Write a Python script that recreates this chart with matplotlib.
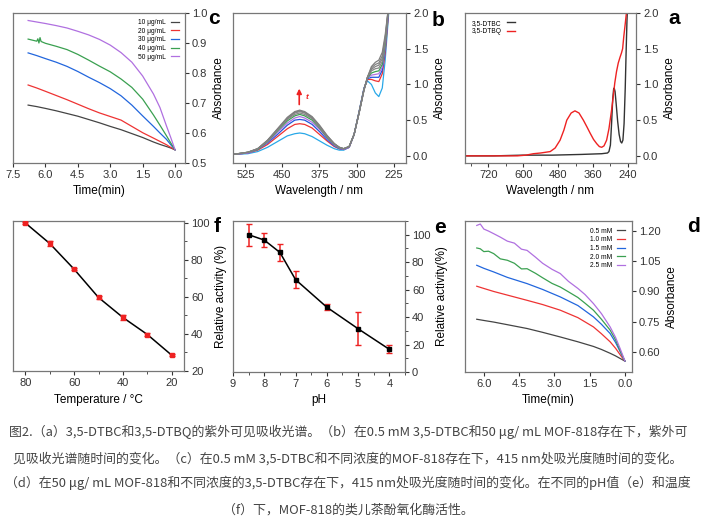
import matplotlib
matplotlib.use("Agg")
import matplotlib.pyplot as plt
from matplotlib.ticker import MultipleLocator

plt.rcParams['font.family'] = ['Liberation Sans', 'DejaVu Sans']

# (a) UV-vis spectra of 3,5-DTBC / 3,5-DTBQ
a_wl_dtbc = [800, 700, 600, 500, 400, 330, 310, 305, 300, 296, 292, 289, 287, 284,
             280, 275, 270, 265, 261, 257, 253, 249, 246, 243, 241]
a_dtbc = [0.00, 0.00, 0.01, 0.01, 0.02, 0.03, 0.04, 0.06, 0.15, 0.45, 0.80, 0.93, 0.95, 0.90,
          0.72, 0.48, 0.30, 0.20, 0.18, 0.22, 0.45, 0.95, 1.45, 1.90, 2.10]
a_wl_dtbq = [800, 700, 620, 590, 565, 540, 507, 490, 473, 460, 450, 435, 422, 408, 393, 380,
             370, 358, 347, 338, 330, 322, 313, 305, 296, 290, 285, 279, 273, 267, 262, 258,
             254, 249, 245, 241]
a_dtbq = [0.00, 0.00, 0.00, 0.01, 0.03, 0.04, 0.06, 0.11, 0.22, 0.36, 0.50, 0.60, 0.63, 0.60,
          0.50, 0.40, 0.32, 0.23, 0.17, 0.13, 0.12, 0.14, 0.22, 0.38, 0.64, 0.84, 1.02, 1.18,
          1.30, 1.38, 1.44, 1.50, 1.67, 1.85, 2.00, 2.20]

# (b) spectra vs time
b_wl = [550, 520, 500, 480, 460, 440, 425, 415, 405, 390, 375, 360, 345, 335, 326, 315, 305,
        295, 285, 278, 270, 262, 255, 248, 242, 236, 230]
b_curves = [
    [.02, .03, .06, .12, .20, .28, .31, .32, .31, .27, .21, .15, .10, .08, .08, .12, .30, .62, .95, 1.05, 1.00, .88, .83, .95, 1.35, 1.90, 2.5],
    [.02, .04, .08, .16, .27, .38, .44, .45, .44, .39, .30, .21, .13, .10, .09, .12, .30, .61, .94, 1.07, 1.07, 1.05, 1.04, 1.15, 1.45, 1.95, 2.5],
    [.02, .04, .09, .18, .30, .43, .50, .51, .50, .44, .34, .23, .14, .10, .09, .12, .30, .61, .94, 1.08, 1.10, 1.10, 1.10, 1.20, 1.50, 1.98, 2.5],
    [.02, .04, .09, .19, .33, .46, .53, .55, .53, .47, .37, .25, .15, .11, .09, .12, .30, .60, .93, 1.09, 1.13, 1.14, 1.15, 1.24, 1.53, 2.00, 2.5],
    [.02, .05, .09, .20, .35, .49, .56, .58, .56, .50, .39, .26, .16, .11, .10, .13, .30, .60, .93, 1.09, 1.16, 1.18, 1.19, 1.28, 1.56, 2.02, 2.5],
    [.02, .05, .10, .21, .36, .51, .58, .60, .58, .52, .40, .27, .16, .11, .10, .13, .30, .60, .93, 1.10, 1.19, 1.22, 1.23, 1.32, 1.60, 2.03, 2.5],
    [.02, .05, .10, .21, .37, .52, .60, .62, .60, .53, .41, .28, .17, .12, .10, .13, .30, .60, .92, 1.10, 1.21, 1.25, 1.27, 1.36, 1.63, 2.04, 2.5],
    [.02, .05, .10, .22, .37, .53, .61, .63, .61, .54, .42, .28, .17, .12, .10, .13, .30, .60, .92, 1.10, 1.23, 1.28, 1.30, 1.40, 1.66, 2.05, 2.5],
    [.02, .05, .10, .22, .38, .54, .62, .64, .62, .55, .43, .29, .17, .12, .10, .13, .30, .60, .92, 1.10, 1.25, 1.31, 1.34, 1.45, 1.70, 2.05, 2.5],
]
b_colors = ['#29a8e8', '#ee3333', '#2255dd', '#b070e0', '#3aa050', '#888888', '#858585', '#828282', '#7f7f7f']

# (c) absorbance at 415 nm vs time, different MOF-818 concentrations
c_t = [0, 0.2, 0.4, 0.7, 1.0, 1.5, 2.0, 2.5, 3.0, 3.5, 4.0, 4.5, 5.0, 5.5, 6.0, 6.4, 6.8]
c_10 = [.544, .550, .555, .562, .570, .585, .598, .611, .622, .634, .645, .656, .665, .674, .682, .688, .693]
c_20 = [.544, .552, .561, .572, .583, .601, .622, .643, .655, .667, .681, .696, .711, .725, .739, .750, .760]
c_30 = [.544, .561, .579, .600, .622, .657, .693, .724, .748, .768, .786, .805, .822, .836, .848, .858, .867]
c_t40 = [0, 0.2, 0.4, 0.7, 1.0, 1.5, 2.0, 2.5, 3.0, 3.5, 4.0, 4.5, 5.0, 5.5, 6.0, 6.2, 6.25, 6.3, 6.35, 6.4, 6.8]
c_40 = [.544, .567, .591, .626, .660, .713, .752, .780, .804, .823, .843, .862, .878, .889, .899, .905, .918, .900, .914, .906, .913]
c_50 = [.544, .585, .624, .685, .730, .790, .836, .868, .893, .912, .927, .939, .950, .958, .965, .970, .975]
c_labels = ['10 μg/mL', '20 μg/mL', '30 μg/mL', '40 μg/mL', '50 μg/mL']

# (d) absorbance at 415 nm vs time, different 3,5-DTBC concentrations
d_t = [0, 0.2, 0.4, 0.63, 1.0, 1.34, 2.0, 2.75, 3.5, 4.16, 5.0, 5.58, 6.0, 6.3]
d_05 = [.554, .567, .580, .593, .612, .627, .650, .674, .697, .716, .735, .748, .756, .762]
d_10 = [.554, .585, .618, .650, .690, .724, .770, .807, .835, .856, .882, .900, .915, .926]
d_15 = [.554, .600, .647, .691, .737, .774, .830, .873, .910, .939, .970, .997, 1.015, 1.030]
d_t2 = [0, 0.2, 0.4, 0.63, 1.0, 1.34, 1.7, 2.0, 2.4, 2.75, 3.1, 3.5, 3.8, 4.16, 4.4, 4.7, 5.0,
        5.3, 5.58, 5.8, 6.0, 6.15, 6.3]
d_20 = [.554, .605, .660, .708, .762, .807, .842, .870, .898, .922, .940, .968, .990, 1.013,
        1.012, 1.040, 1.055, 1.062, 1.088, 1.100, 1.098, 1.112, 1.116]
d_25 = [.554, .615, .672, .724, .790, .840, .885, .915, .950, .989, 1.010, 1.040, 1.070, 1.104,
        1.110, 1.140, 1.150, 1.170, 1.187, 1.200, 1.210, 1.235, 1.228]
d_labels = ['0.5 mM', '1.0 mM', '1.5 mM', '2.0 mM', '2.5 mM']

# (e) pH
e_ph = [8.5, 8, 7.5, 7, 6, 5, 4]
e_act = [100, 96.1, 87.1, 67.3, 47.2, 31.5, 16.5]
e_err = [8, 5.3, 6.5, 6, 2, 12, 3]

# (f) temperature
f_temp = [80, 70, 60, 50, 40, 30, 20]
f_act = [100, 88.9, 75, 59.7, 48.9, 39.7, 28.5]
f_err = [0.5, 1.2, 0.6, 0.8, 1.5, 0.6, 0.6]

caption = [
    "图2.（a）3,5-DTBC和3,5-DTBQ的紫外可见吸收光谱。（b）在0.5 mM 3,5-DTBC和50 μg/ mL MOF-818存在下，紫外可",
    "见吸收光谱随时间的变化。（c）在0.5 mM 3,5-DTBC和不同浓度的MOF-818存在下，415 nm处吸光度随时间的变化。",
    "（d）在50 μg/ mL MOF-818和不同浓度的3,5-DTBC存在下，415 nm处吸光度随时间的变化。在不同的pH值（e）和温度",
    "（f）下，MOF-818的类儿茶酚氧化酶活性。",
]

W, H = 705, 526
fig = plt.figure(figsize=(W / 100, H / 100), dpi=100)


def make_ax(x0, x1, y0, y1):
    ax = fig.add_axes([x0 / W, 1 - y1 / H, (x1 - x0) / W, (y1 - y0) / H])
    ax.yaxis.tick_right()
    ax.yaxis.set_label_position('right')
    for s in ax.spines.values():
        s.set_color('#777777')
        s.set_linewidth(0.9)
    ax.tick_params(direction='out', length=3, width=0.8, labelsize=8, colors='#333333',
                   which='major', pad=2)
    ax.tick_params(direction='out', length=1.8, width=0.6, which='minor', colors='#333333')
    return ax


def letter(x, y, s):
    fig.text(x / W, 1 - y / H, s, fontsize=15, fontweight='bold', ha='center', va='center')


# panel a
ax = make_ax(465, 636, 13, 163)
ax.plot(a_wl_dtbc, a_dtbc, color='#333333', lw=1.0, label='3,5-DTBC')
ax.plot(a_wl_dtbq, a_dtbq, color='#ee2222', lw=1.0, label='3,5-DTBQ')
ax.set_xlim(800, 212)
ax.set_ylim(-0.1, 2.0)
ax.xaxis.set_major_locator(MultipleLocator(120))
ax.xaxis.set_minor_locator(MultipleLocator(60))
ax.yaxis.set_major_locator(MultipleLocator(0.5))
ax.set_xlabel('Wavelength / nm', fontsize=8.5)
ax.set_ylabel('Absorbance', fontsize=8.5, rotation=90, labelpad=4)
ax.legend(loc='upper left', fontsize=4.8, frameon=False, markerfirst=False, handlelength=1.2,
          borderaxespad=0.6, labelspacing=0.2)
letter(674, 18, 'a')

# panel b
ax = make_ax(233, 406, 13, 163)
for vals, col in zip(b_curves, b_colors):
    ax.plot(b_wl, vals, color=col, lw=0.9)
ax.set_xlim(550, 200)
ax.set_ylim(-0.1, 2.0)
ax.xaxis.set_major_locator(MultipleLocator(75))
ax.yaxis.set_major_locator(MultipleLocator(0.5))
ax.annotate('', xy=(416, 0.98), xytext=(416, 0.68),
            arrowprops=dict(arrowstyle='-|>', color='#ee2222', lw=1.2, mutation_scale=7))
ax.text(403, 0.80, 't', color='#ee2222', fontsize=6, fontstyle='italic', fontweight='bold')
ax.set_xlabel('Wavelength / nm', fontsize=8.5)
ax.set_ylabel('Absorbance', fontsize=8.5, rotation=90, labelpad=4)
letter(438, 20, 'b')

# panel c
ax = make_ax(13, 185, 13, 163)
ax.plot(c_t, c_10, color='#444444', lw=0.9, label=c_labels[0])
ax.plot(c_t, c_20, color='#ee3333', lw=0.9, label=c_labels[1])
ax.plot(c_t, c_30, color='#2266dd', lw=0.9, label=c_labels[2])
ax.plot(c_t40, c_40, color='#3aa050', lw=0.9, label=c_labels[3])
ax.plot(c_t, c_50, color='#b070e0', lw=0.9, label=c_labels[4])
ax.set_xlim(7.5, -0.46)
ax.set_ylim(0.5, 1.0)
ax.xaxis.set_major_locator(MultipleLocator(1.5))
ax.yaxis.set_major_locator(MultipleLocator(0.1))
ax.set_xlabel('Time(min)', fontsize=8.5)
ax.set_ylabel('Absorbance', fontsize=8.5, rotation=90, labelpad=4)
ax.legend(loc='upper right', fontsize=4.8, frameon=False, markerfirst=False, handlelength=1.2,
          borderaxespad=0.5, labelspacing=0.25)
letter(214, 18, 'c')

# panel d
ax = make_ax(465, 632, 221, 372)
ax.plot(d_t, d_05, color='#444444', lw=0.9, label=d_labels[0])
ax.plot(d_t, d_10, color='#ee3333', lw=0.9, label=d_labels[1])
ax.plot(d_t, d_15, color='#2266dd', lw=0.9, label=d_labels[2])
ax.plot(d_t2, d_20, color='#3aa050', lw=0.9, label=d_labels[3])
ax.plot(d_t2, d_25, color='#b070e0', lw=0.9, label=d_labels[4])
ax.set_xlim(6.8, -0.3)
ax.set_ylim(0.5, 1.25)
ax.xaxis.set_major_locator(MultipleLocator(1.5))
ax.set_yticks([0.60, 0.75, 0.90, 1.05, 1.20])
ax.set_yticklabels(['0.60', '0.75', '0.90', '1.05', '1.20'])
ax.set_xlabel('Time(min)', fontsize=8.5)
ax.set_ylabel('Absorbance', fontsize=8.5, rotation=90, labelpad=4)
ax.legend(loc='upper right', fontsize=4.8, frameon=False, markerfirst=False, handlelength=1.2,
          borderaxespad=0.6, labelspacing=0.25)
letter(693, 226, 'd')

# panel e
ax = make_ax(233, 405, 221, 372)
ax.errorbar(e_ph, e_act, yerr=e_err, color='black', lw=1.1, marker='s', ms=2.5,
            ecolor='#ee2222', elinewidth=1.1, capsize=2, capthick=1.0)
ax.set_xlim(9, 3.5)
ax.set_ylim(0, 110)
ax.xaxis.set_major_locator(MultipleLocator(1))
ax.xaxis.set_minor_locator(MultipleLocator(0.5))
ax.yaxis.set_major_locator(MultipleLocator(20))
ax.yaxis.set_minor_locator(MultipleLocator(10))
ax.set_xlabel('pH', fontsize=8.5)
ax.set_ylabel('Relative activity(%)', fontsize=8.5, rotation=90, labelpad=4)
letter(440, 228, 'e')

# panel f
ax = make_ax(13, 184, 221, 371)
ax.plot(f_temp, f_act, color='black', lw=1.1, zorder=2)
ax.errorbar(f_temp, f_act, yerr=f_err, fmt='s', color='#ee2222', ms=3, ecolor='#ee2222',
            elinewidth=1.0, capsize=2, zorder=3)
ax.set_xlim(85, 15)
ax.set_ylim(20, 101)
ax.xaxis.set_major_locator(MultipleLocator(20))
ax.xaxis.set_minor_locator(MultipleLocator(10))
ax.yaxis.set_major_locator(MultipleLocator(20))
ax.yaxis.set_minor_locator(MultipleLocator(10))
ax.set_xlabel('Temperature / °C', fontsize=8.5)
ax.set_ylabel('Relative activity (%)', fontsize=8.5, rotation=90, labelpad=4)
letter(217, 226, 'f')

# caption
for yy, line in zip([432, 459, 483, 510], caption):
    fig.text(348 / W, 1 - yy / H, line, fontsize=9.3, color='#444444', ha='center', va='center',
             family=['Noto Sans CJK SC', 'DejaVu Sans'])

fig.savefig('out.png', dpi=100)
